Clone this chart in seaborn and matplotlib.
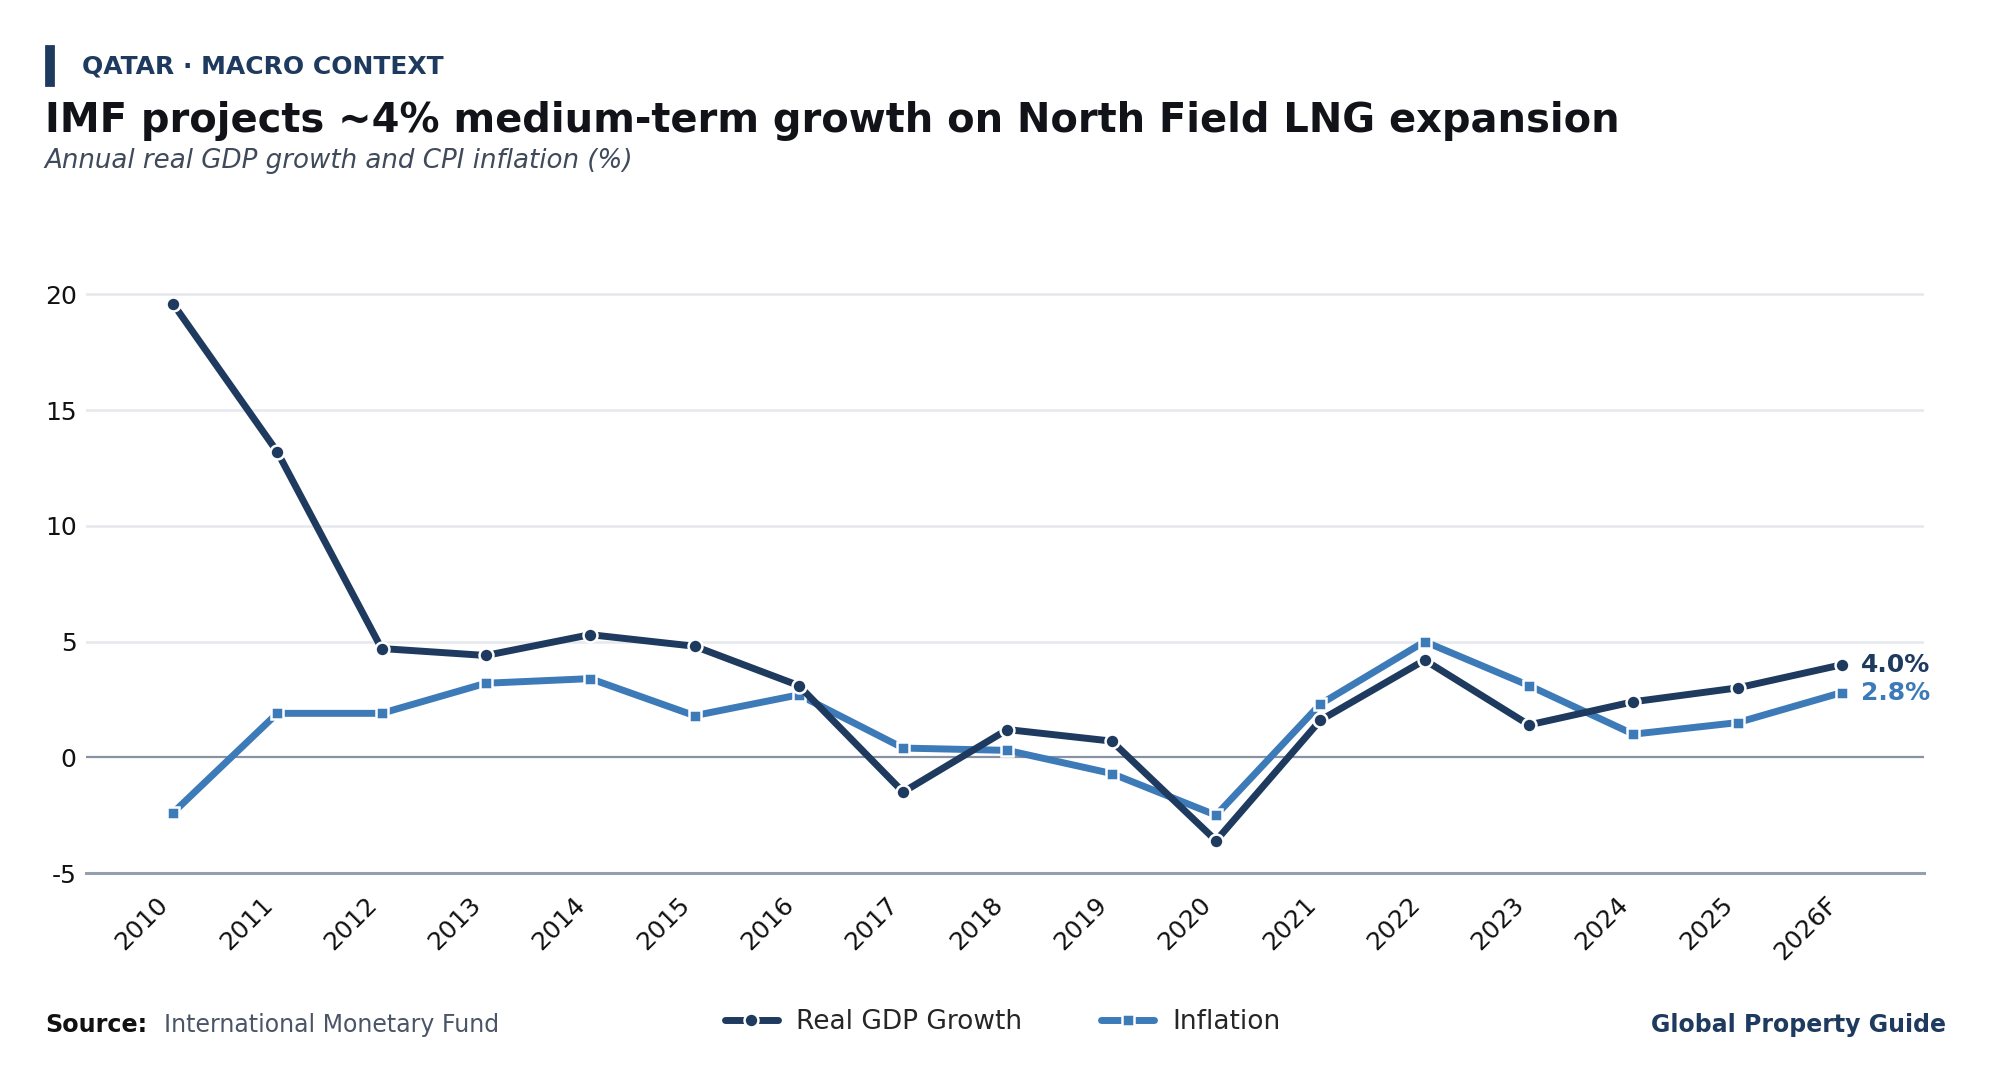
import numpy as np
import pandas as pd
import matplotlib
matplotlib.use("Agg")
import matplotlib.pyplot as plt
import seaborn as sns

# Data
years = ["2010", "2011", "2012", "2013", "2014", "2015", "2016", "2017", "2018",
         "2019", "2020", "2021", "2022", "2023", "2024", "2025", "2026F"]
gdp_growth = [19.6, 13.2, 4.7, 4.4, 5.3, 4.8, 3.1, -1.5, 1.2, 0.7, -3.6, 1.6, 4.2, 1.4, 2.4, 3.0, 4.0]
inflation = [-2.4, 1.9, 1.9, 3.2, 3.4, 1.8, 2.7, 0.4, 0.3, -0.7, -2.5, 2.3, 5.0, 3.1, 1.0, 1.5, 2.8]
y_ticks = [-5, 0, 5, 10, 15, 20]

NAVY = "#1f3a5f"
BLUE = "#3d7ab8"

sns.set_theme(style="white")
plt.rcParams['font.family'] = ['DejaVu Sans']

df = pd.DataFrame({"pos": np.arange(len(years)), "year": years,
                   "gdp": gdp_growth, "cpi": inflation})

fig = plt.figure(figsize=(9.95, 5.46), dpi=200)
ax = fig.add_axes([0.0434, 0.2005, 0.9236, 0.5935])

sns.lineplot(data=df, x="pos", y="gdp", ax=ax, color=NAVY, linewidth=2.5,
             marker="o", markersize=5, markeredgecolor="white", markeredgewidth=0.9,
             label="Real GDP Growth", zorder=4)
sns.lineplot(data=df, x="pos", y="cpi", ax=ax, color=BLUE, linewidth=2.5,
             marker="s", markersize=4.6, markeredgecolor="white", markeredgewidth=0.9,
             label="Inflation", zorder=3)

ax.set_xlim(-0.83, 16.79)
ax.set_ylim(-5, 23)
ax.set_yticks(y_ticks)
ax.set_yticklabels([str(t) for t in y_ticks], fontsize=9, color="#111111")
ax.set_xticks(df["pos"])
ax.set_xticklabels(years, rotation=45, ha="right", fontsize=9, color="#111111")
ax.tick_params(axis="x", length=0, pad=7)
ax.tick_params(axis="y", length=0, pad=3.5)
ax.set_xlabel("")
ax.set_ylabel("")

for t in y_ticks[2:]:
    ax.axhline(t, color="#e5e8ec", linewidth=0.9, zorder=0)
ax.axhline(0, color="#8793a2", linewidth=0.8, zorder=1)

for s in ["top", "right", "left"]:
    ax.spines[s].set_visible(False)
ax.spines["bottom"].set_color("#94a0b0")
ax.spines["bottom"].set_linewidth(1.1)

# End labels
ax.annotate(f"{gdp_growth[-1]:.1f}%", (df["pos"].iloc[-1], gdp_growth[-1]),
            xytext=(7, 0), textcoords="offset points", va="center", ha="left",
            fontsize=9, fontweight="bold", color=NAVY)
ax.annotate(f"{inflation[-1]:.1f}%", (df["pos"].iloc[-1], inflation[-1]),
            xytext=(7, 0), textcoords="offset points", va="center", ha="left",
            fontsize=9, fontweight="bold", color=BLUE)

ax.get_legend().remove()
handles, labels = ax.get_legend_handles_labels()
fig.legend(handles, labels, loc="center", bbox_to_anchor=(0.504, 0.064), ncol=2,
           frameon=False, fontsize=9.5, handlelength=2.0, columnspacing=3.0,
           handletextpad=0.7)

# Header
fig.add_artist(plt.Rectangle((0.023, 1 - 67 / 860), 0.0038, 31 / 860,
                             transform=fig.transFigure, color=NAVY))
fig.text(0.041, 1 - 52 / 860, "QATAR · MACRO CONTEXT", fontsize=9,
         fontweight="bold", color=NAVY, va="center", ha="left")
fig.text(0.0225, 1 - 95 / 860, "IMF projects ~4% medium-term growth on North Field LNG expansion",
         fontsize=14.4, fontweight="bold", color="#111318", va="center", ha="left")
fig.text(0.0225, 1 - 127 / 860, "Annual real GDP growth and CPI inflation (%)",
         fontsize=9.4, style="italic", color="#3f4a5a", va="center", ha="left")

# Footer
fig.text(0.0225, 0.061, "Source:", fontsize=8.6, fontweight="bold", color="#111111",
         va="center", ha="left")
fig.text(0.0823, 0.061, "International Monetary Fund", fontsize=8.5, color="#4a5568",
         va="center", ha="left")
fig.text(0.978, 0.061, "Global Property Guide", fontsize=8.5, fontweight="bold",
         color=NAVY, va="center", ha="right")

fig.savefig("out.png", dpi=200, facecolor="white")
